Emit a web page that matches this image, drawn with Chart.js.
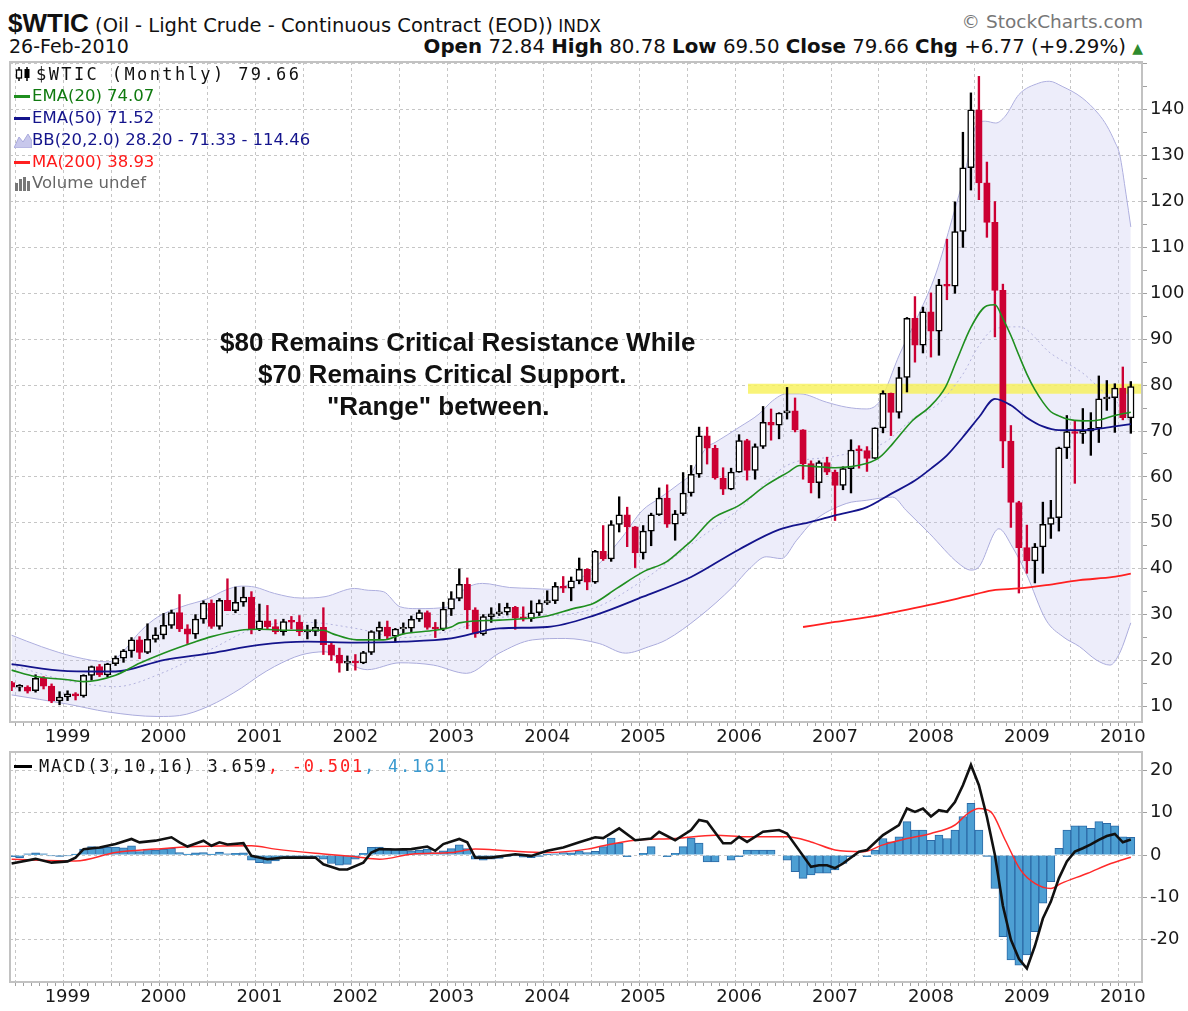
<!DOCTYPE html>
<html>
<head>
<meta charset="utf-8">
<title>$WTIC Monthly</title>
<script src="https://cdn.jsdelivr.net/npm/chart.js@4/dist/chart.umd.min.js"></script>
<style>
  html, body { margin:0; padding:0; background:#fff; }
  body { width:1188px; height:1011px; position:relative; overflow:hidden; font-family:"DejaVu Sans", sans-serif; color:#111; }
  .t { position:absolute; white-space:nowrap; line-height:1; }
  canvas { position:absolute; left:0; }
  #pc { top:60px; }
  #mc { top:750px; }
  .leg { position:absolute; left:14px; white-space:nowrap; line-height:1; font-family:"DejaVu Sans", sans-serif; font-size:16.5px; display:flex; align-items:center; height:20px; }
  .mono { font-family:"DejaVu Sans Mono", monospace; font-size:17px; letter-spacing:2.4px; }
  .dash { display:inline-block; width:16px; height:3px; margin-right:2px; }
  .ann { position:absolute; white-space:nowrap; font:bold 26px "Liberation Sans", Arial, sans-serif; color:#111; line-height:1; }
</style>
</head>
<body>
<div class="t" style="left:8px;top:8px;"><span style="font:bold 26px 'Liberation Sans',Arial,sans-serif;">$WTIC</span><span style="font-size:19.5px;"> (Oil - Light Crude - Continuous Contract (EOD))</span><span style="font-size:17px;"> INDX</span></div>
<div class="t" style="right:45px;top:13px;font-size:18.5px;color:#777;">© StockCharts.com</div>
<div class="t" style="left:9px;top:37px;font-size:19px;">26-Feb-2010</div>
<div class="t" style="right:45px;top:37px;font-size:19.8px;"><b>Open</b> 72.84 <b>High</b> 80.78 <b>Low</b> 69.50 <b>Close</b> 79.66 <b>Chg</b> +6.77 (+9.29%) <span style="color:#2e8b2e;font-size:14px;">▲</span></div>

<canvas id="pc" width="1188" height="700"></canvas>
<canvas id="mc" width="1188" height="261"></canvas>

<div class="leg mono" style="top:64px;"><svg width="19" height="16" style="margin-right:3px"><line x1="5" y1="1" x2="5" y2="15" stroke="#000" stroke-width="1.5"/><rect x="2.5" y="4" width="5" height="8" fill="#fff" stroke="#000" stroke-width="1.3"/><line x1="13" y1="1" x2="13" y2="15" stroke="#000" stroke-width="1.5"/><rect x="10.5" y="3" width="5" height="9" fill="#000"/></svg>$WTIC (Monthly) 79.66</div>
<div class="leg" style="top:86px;color:#107a10;"><span class="dash" style="background:#1f8f1f"></span>EMA(20) 74.07</div>
<div class="leg" style="top:108px;color:#14148c;"><span class="dash" style="background:#14148c"></span>EMA(50) 71.52</div>
<div class="leg" style="top:130px;color:#14148c;"><svg width="18" height="16"><polygon points="0,16 5,5 9,10 14,2 18,9 18,16" fill="#c8c8ec" stroke="#a9a9dc"/></svg>BB(20,2.0) 28.20 - 71.33 - 114.46</div>
<div class="leg" style="top:152px;color:#ff1a1a;"><span class="dash" style="background:#ff2020"></span>MA(200) 38.93</div>
<div class="leg" style="top:173px;color:#666;"><svg width="18" height="16"><rect x="1" y="8" width="3" height="8" fill="#777"/><rect x="5" y="4" width="3" height="12" fill="#777"/><rect x="9" y="2" width="3" height="14" fill="#777"/><rect x="13" y="6" width="3" height="10" fill="#777"/></svg>Volume undef</div>

<div class="ann" style="left:220px;top:329px;">$80 Remains Critical Resistance While</div>
<div class="ann" style="left:258px;top:361px;">$70 Remains Critical Support.</div>
<div class="ann" style="left:327px;top:393px;">"Range" between.</div>

<div class="leg mono" style="top:756px;left:14px;letter-spacing:1.8px;"><span class="dash" style="background:#000;width:18px;margin-right:7px"></span>MACD(3,10,16) 3.659<span style="color:#ff2020">, -0.501</span><span style="color:#3a9ad0">, 4.161</span></div>

<script>
// ================= DATA =================
// month index 0 = Jun 1998 ... 140 = Feb 2010
const firstYear = 1998;
const firstMonth = 5; // June (0 = January)
const yearLabels = ['1999','2000','2001','2002','2003','2004','2005','2006','2007','2008','2009','2010'];

const opens = [
  15.20,14.20,14.20,13.40,16.14,14.42,11.22,
  12.05,12.75,12.27,16.76,18.66,16.84,19.29,20.53,22.10,24.51,21.75,24.59,
  25.60,27.64,30.43,26.90,25.74,29.01,32.50,27.43,33.12,30.84,32.70,33.82,
  26.80,28.66,27.39,26.29,28.46,28.37,26.25,26.35,27.20,23.43,21.18,19.44,
  19.84,19.48,21.74,26.31,27.29,25.31,26.86,27.02,28.98,30.45,27.22,26.89,
  31.20,33.51,36.60,31.04,25.80,29.56,30.19,30.54,31.57,29.20,29.11,30.41,
  32.52,33.05,36.16,35.76,37.38,39.88,37.05,43.80,42.12,49.64,51.76,49.13,
  43.45,48.20,51.75,55.40,49.72,51.97,56.50,60.57,68.94,66.24,59.76,57.32,
  61.04,67.92,61.41,66.63,71.88,71.29,73.93,74.40,70.26,62.91,58.73,63.13,
  61.05,58.14,61.79,65.87,65.71,64.01,70.68,78.21,74.04,81.66,94.53,88.71,
  95.98,91.75,101.84,101.58,113.46,127.35,140.00,124.08,115.46,100.64,67.81,54.43,
  44.60,41.68,44.76,49.66,51.12,66.31,69.89,69.45,69.96,70.61,77.00,77.28,
  79.36,72.84
];
const highs = [
  15.45,14.75,14.50,16.90,16.50,14.90,13.20,
  13.40,13.00,16.90,18.80,19.14,19.40,21.00,22.40,25.00,25.20,28.00,27.15,
  30.25,31.00,34.37,27.80,30.00,33.00,33.20,33.50,37.80,36.00,36.00,35.00,
  32.30,32.00,28.90,29.00,29.60,29.80,27.70,28.90,31.50,23.80,22.70,21.00,
  21.30,22.00,26.50,28.40,28.60,27.00,28.20,29.70,31.00,30.80,28.30,32.70,
  35.00,39.99,38.00,31.50,30.00,31.50,32.40,32.50,31.80,31.70,33.00,33.20,
  35.20,37.00,38.30,38.20,42.33,40.00,44.00,49.40,50.47,55.67,53.40,49.20,
  49.40,52.10,57.60,58.28,52.70,60.95,62.50,70.85,70.85,66.90,62.00,61.90,
  69.20,68.20,67.20,75.35,74.80,74.00,79.50,77.20,70.30,63.50,63.50,64.30,
  61.50,62.20,68.10,66.80,66.60,70.70,78.77,78.28,83.90,94.74,99.29,97.00,
  100.09,103.05,111.80,119.93,135.09,143.67,147.27,128.60,120.00,102.00,71.20,54.70,
  49.50,45.50,54.50,54.90,66.50,73.38,72.30,74.90,74.00,82.00,81.00,80.30,
  83.95,80.78
];
const lows = [
  13.42,13.35,12.90,13.10,13.80,10.80,10.35,
  11.26,11.40,12.00,15.70,16.50,16.45,18.90,19.60,20.70,20.40,21.50,24.00,
  24.70,27.00,26.30,23.70,24.80,28.10,27.00,26.80,31.00,30.40,31.80,25.80,
  26.50,26.90,25.80,25.50,26.90,25.40,24.70,25.40,21.30,20.00,17.45,17.80,
  17.90,19.30,21.30,24.70,24.70,24.00,25.80,26.30,28.50,26.80,25.00,26.50,
  29.80,33.00,26.90,25.04,25.50,28.30,29.80,29.90,26.80,28.60,28.50,29.80,
  32.20,32.40,34.80,33.00,36.70,35.40,36.80,41.80,41.60,48.00,44.80,40.25,
  42.10,45.00,51.60,49.00,46.20,51.60,55.80,59.90,62.80,59.50,56.15,57.20,
  61.00,59.30,59.50,66.20,68.00,68.30,72.60,69.80,59.50,56.50,55.40,60.50,
  50.50,57.20,56.50,61.90,61.20,64.00,69.60,69.00,72.80,78.50,85.00,87.00,
  86.11,86.50,98.60,100.00,110.00,122.50,120.40,112.20,90.51,62.00,49.00,34.70,
  39.00,36.90,39.00,46.60,48.20,64.00,58.60,67.30,64.70,67.50,74.50,69.70,
  72.43,69.50
];
const closes = [
  14.18,14.21,13.34,16.14,14.42,11.22,12.05,
  12.75,12.27,16.76,18.66,16.84,19.29,20.53,22.10,24.51,21.75,24.59,25.60,
  27.64,30.43,26.90,25.74,29.01,32.50,27.43,33.12,30.84,32.70,33.82,26.80,
  28.66,27.39,26.29,28.46,28.37,26.25,26.35,27.20,23.43,21.18,19.44,19.84,
  19.48,21.74,26.31,27.29,25.31,26.86,27.02,28.98,30.45,27.22,26.89,31.20,
  33.51,36.60,31.04,25.80,29.56,30.19,30.54,31.57,29.20,29.11,30.41,32.52,
  33.05,36.16,35.76,37.38,39.88,37.05,43.80,42.12,49.64,51.76,49.13,43.45,
  48.20,51.75,55.40,49.72,51.97,56.50,60.57,68.94,66.24,59.76,57.32,61.04,
  67.92,61.41,66.63,71.88,71.29,73.93,74.40,70.26,62.91,58.73,63.13,61.05,
  58.14,61.79,65.87,65.71,64.01,70.68,78.21,74.04,81.66,94.53,88.71,95.98,
  91.75,101.84,101.58,113.46,127.35,140.00,124.08,115.46,100.64,67.81,54.43,44.60,
  41.68,44.76,49.66,51.12,66.31,69.89,69.45,69.96,70.61,77.00,77.28,79.36,
  72.89,79.66
];

// overlays (month index, value)
const ema20M = [0,3,7,9,13,16,19,23,25,28.6,31,34.4,37,39,40.2,43.2,46.5,49,53,55,56,61,67,70.25,72.75,75.7,79,81.9,84,85,87.75,91,94.4,97.1,98.6,100.2,103,106.9,108.6,110.2,112.7,114.8,116.8,118.2,120,122,123,124,125,126,127,128,129,130,131,132,134,136,138,140];
const ema20V = [17.9,16.5,15.8,15.4,16.8,19.4,21.6,24.1,25.2,26.6,26.8,26.6,26.6,26.6,25.8,24.5,24.5,25.8,26.6,27.3,28.2,28.8,29.7,31.3,32.4,35.7,39.3,41.5,44.5,46.0,51.0,53.8,58.2,61.0,62.5,62.3,62.0,62.9,64.3,67.2,72.3,75.2,79.5,85.3,92.6,97.3,97.5,94.5,90.8,86.5,82.4,79.0,76.3,74.2,73.3,72.6,72.2,72.4,73.4,74.07];

const ema50M = [0,7,13,19,25,31,37,43,49,55,61,67,73,79,85,91,96,100,103,107,110,113,115,117,119,121,123,125,127,129,131,134,136,138,140];
const ema50V = [19.2,17.7,17.6,20.1,21.6,23.4,24.1,23.9,24.1,24.8,27.0,27.3,29.9,33.9,38.2,44.2,48.5,50.2,51.6,53.4,56.3,59.2,61.8,64.7,68.7,73.0,77.0,75.6,72.9,71.0,70.2,70.2,70.5,71.0,71.52];

const ma200M = [99,103,108.6,114.8,119.3,122.7,126,129.4,133.6,137.8,140];
const ma200V = [27.3,28.4,29.9,32.1,33.9,35.3,35.7,36.4,37.5,38.2,38.93];

const bbUpM = [0,3.75,7.9,12.1,13.3,16.25,18.3,21.25,24.6,26.7,28.75,30.4,32.9,36.25,39.2,42.9,44.6,46.5,48.6,50.7,54.8,56,58.9,62.3,65.2,67.3,71.4,73.9,76.4,78.9,81,83.5,85,86,87,88,91,93.5,95.2,96.9,98.6,101.9,104.4,106.9,108.6,111.1,113.5,115.6,117.7,119.3,120.6,121.8,123.1,124.3,126,128.5,129.8,131.4,133.9,136,137,138,138.6,139.4,140];
const bbUpV = [25.5,23.0,20.8,19.7,20.8,26.6,29.5,31.7,33.5,35.3,36.2,36.0,34.6,33.6,33.9,35.7,35.3,35.0,31.7,31.3,31.7,34.6,36.8,35.9,35.7,35.5,38.2,41.8,46.9,52.7,55.3,58.5,60.7,64.0,66.5,67.5,70.8,73.7,76.6,78.1,78.1,76.3,75.2,74.8,76.5,86.8,95.5,104.2,116.5,126.6,136.4,137.5,137.1,138.6,143.3,145.8,146.2,145.1,142.6,139.0,136.5,133.0,130.3,121.6,114.46];

const bbLoM = [0,7,12,18.3,21,24.6,28.75,30.8,32.9,36.2,39.2,41.3,44.5,48.6,52.75,56.9,61,65.2,69.3,73.5,76.8,79.7,81.9,86,90.2,92.3,94.4,96.3,98.2,100.2,104.4,106.9,110.2,111.9,114.8,118.5,120,121,123.5,125.2,126.9,129.4,131.5,133.6,135.7,137.4,138.6,140];
const bbLoV = [12.5,10.5,8.8,7.8,8.0,10.0,14.0,16.5,18.7,21.2,21.9,20.1,18.0,19.5,19.0,17.2,21.6,24.5,24.8,23.7,21.6,23.0,24.5,29.5,36.0,40.0,42.6,42.2,46.2,50.2,54.2,54.9,55.6,52.7,47.7,41.1,39.7,40.4,48.7,44.7,39.0,28.8,25.2,23.0,20.1,19.0,21.6,28.2];

const bbMidM = [0,7,13,19,25,31,37,43,49,55,61,67,73,79,85,91,97,103,109,113,116,119,121,123,126,130,134,137,138,139,140];
const bbMidV = [19.0,15.6,14.3,17.4,22.5,27.4,28.3,27.0,25.0,26.5,29.4,29.7,31.5,37.5,45.3,53.0,62.5,64.5,67.3,73.0,76.0,82.4,88.6,92.3,92.7,86.9,82.6,77.9,76.7,74.8,71.33];

// horizontal resistance band ($78-$80)
const bandM = [92.1, 141.4];
const bandLow = [78.1, 78.1];
const bandHigh = [80.3, 80.3];

// MACD(3,10,16)
const macdM = [0,3,5,7,8,9,11,13,15,16,18,20,21,22,24,25,26,27,29,30,32,34,36,38,39,41,42,44,45,46,48,50,52,53,54,56,57,58,60,63,65,67,69,71,73,74,76,78,80,81,83,85,86,87,89,90,91,92,94,96,97,100,101,102,103,104,106,107,109,111,112,113,114,115,116,117,118,119,120,121,122,123,124,125,126,127,128,129,130,131,132,133,134,135,136,137,138,139,140];
const macdV = [-2.0,-0.9,-1.8,-1.5,-0.6,1.4,1.8,2.6,3.8,3.0,3.4,4.2,3.0,2.0,3.4,2.2,3.0,2.5,2.8,-0.2,-1.0,-0.6,-0.6,-0.6,-2.2,-3.4,-3.4,-1.8,0.6,1.4,1.3,1.4,2.0,1.0,2.6,3.8,3.0,-0.6,-0.6,0.2,-0.2,1.0,1.8,3.0,4.2,4.0,6.3,3.5,3.9,5.5,3.5,5.9,8.3,7.9,2.8,2.8,4.3,3.1,5.5,5.9,5.1,-2.8,-2.4,-2.4,-3.1,-2.0,0.8,1.2,4.7,7.1,11.0,10.2,11.0,9.1,10.6,10.2,12.5,16.5,21.3,16.5,9.0,0.0,-12.0,-20.0,-24.5,-26.8,-21.5,-15.0,-11.0,-5.5,-1.5,0.8,1.6,2.5,3.6,4.5,5.0,3.0,3.659];
const signalM = [0,8,13,18,23,30,33,38,43,46,50,55,58,62,67,72,74,78,83,88,92,97,100,103,106.5,109,112,115,118,119.6,121,122.5,124.3,126.2,128,130,131.3,134.6,137.5,140];
const signalV = [-1.0,-1.4,0.6,1.4,2.0,2.2,1.4,0.4,-0.4,-1.0,0.2,0.6,1.4,1.0,0.6,1.4,2.2,3.5,3.9,4.7,4.3,4.3,3.1,1.2,0.8,2.4,3.9,5.1,7.1,9.8,11.0,10.2,3.5,-3.5,-6.7,-7.9,-6.7,-4.3,-2.0,-0.501];
const macdHist = [
  -0.4,-0.6,0.3,0.5,0.3,-0.2,-0.3,
  -0.2,0.2,1.4,2.0,1.6,1.8,1.9,1.7,2.2,0.8,1.4,1.2,
  1.4,1.6,0.6,0.2,0.5,0.6,0.2,0.7,0.3,0.4,0.5,-1.2,
  -1.8,-2.0,-1.4,-0.6,-0.6,-0.5,-0.6,-0.5,-1.0,-2.0,-2.4,-2.2,
  -1.0,0.4,1.8,1.9,1.5,1.3,1.2,1.0,1.2,1.4,0.6,1.0,
  1.5,2.4,1.5,-1.0,-1.2,-1.0,-0.8,-0.3,-0.2,-0.5,-0.6,-0.3,
  0.2,0.3,0.6,0.5,1.0,0.6,0.9,2.0,4.0,2.8,-0.4,0.0,
  0.4,2.0,0.0,-0.4,0.4,2.0,4.0,2.8,-1.6,-1.6,0.0,-1.2,
  -0.4,1.2,1.2,1.2,1.2,0.0,-1.2,-3.9,-5.5,-4.7,-4.3,-4.3,
  -3.5,-2.0,-0.4,0.0,-0.4,1.2,3.9,3.1,4.3,7.9,5.9,5.9,
  3.5,4.7,3.9,5.9,9.1,12.2,5.9,-0.3,-7.9,-19.3,-24.8,-26.0,
  -23.6,-18.1,-11.4,-6.3,1.6,5.9,6.9,6.9,6.3,7.9,7.5,6.9,
  4.3,4.161
];

const priceTicks = [10,15,20,25,30,35,40,45,50,55,60,65,70,75,80,85,90,95,100,105,110,115,120,125,130,135,140,145,150];
const macdTicks = [-20,-10,0,10,20];

// ================= STYLE =================
const RED = '#cc0033';
const GRID = '#c6c6c6';
const AXIS_FONT = { family: 'DejaVu Sans', size: 18 };
const X_MIN = -0.2, X_MAX = 141.4;

const N = closes.length;
const idx = Array.from({ length: N }, (_, i) => i);
const pts = (ms, vs) => ms.map((m, i) => ({ x: m, y: vs[i] }));
const monthOf = m => (m + firstMonth) % 12;
const prevClose = closes.map((c, i) => i ? closes[i - 1] : opens[0]);
const candleColor = closes.map((c, i) => c >= prevClose[i] ? '#000000' : RED);
const candleFill = closes.map((c, i) => c > opens[i] ? '#ffffff' : candleColor[i]);

const framePlugin = {
  id: 'frame',
  afterDraw(chart) {
    const { ctx, chartArea: a } = chart;
    ctx.save();
    ctx.strokeStyle = '#c2c2c2';
    ctx.lineWidth = 2;
    ctx.strokeRect(a.left, a.top, a.right - a.left, a.bottom - a.top);
    ctx.restore();
  }
};

function xScale(height) {
  return {
    type: 'linear', min: X_MIN, max: X_MAX, offset: false,
    afterBuildTicks: s => { s.ticks = idx.map(v => ({ value: v })); },
    afterFit: s => { s.height = height; s.paddingLeft = 0; s.paddingRight = 0; },
    ticks: {
      autoSkip: false, maxRotation: 0, minRotation: 0, padding: 1,
      font: AXIS_FONT, color: '#1a1a1a',
      callback: v => monthOf(v) === 0 ? yearLabels[(v - 7) / 12] : ''
    },
    grid: {
      color: c => (c.tick && (monthOf(c.tick.value) === 0 || monthOf(c.tick.value) === 6)) ? GRID : 'rgba(0,0,0,0)',
      tickColor: '#a0a0a0', tickLength: 4, lineWidth: 1
    },
    border: { display: false, dash: [3, 3] }
  };
}

// ================= PRICE CHART =================
new Chart(document.getElementById('pc'), {
  type: 'bar',
  data: {
    datasets: [
      { type: 'line', data: pts(ema20M, ema20V), borderColor: '#1f8f1f', borderWidth: 1.6, pointRadius: 0, cubicInterpolationMode: 'monotone', fill: false, order: 0 },
      { type: 'line', data: pts(ema50M, ema50V), borderColor: '#14148c', borderWidth: 1.8, pointRadius: 0, cubicInterpolationMode: 'monotone', fill: false, order: 0 },
      { type: 'line', data: pts(ma200M, ma200V), borderColor: '#ff2020', borderWidth: 1.8, pointRadius: 0, cubicInterpolationMode: 'monotone', fill: false, order: 0 },
      { type: 'bar', data: idx.map(i => ({ x: i, y: [opens[i], closes[i]] })), backgroundColor: candleFill, borderColor: candleColor, borderWidth: 1.5, borderSkipped: false, barThickness: 6.5, minBarLength: 1.8, grouped: false, order: 2 },
      { type: 'bar', data: idx.map(i => ({ x: i, y: [lows[i], highs[i]] })), backgroundColor: candleColor, borderWidth: 0, barThickness: 1.7, grouped: false, order: 3 },
      { type: 'line', data: pts(bbMidM, bbMidV), borderColor: '#b4b4de', borderWidth: 1, borderDash: [2, 3], pointRadius: 0, cubicInterpolationMode: 'monotone', fill: false, order: 5 },
      { type: 'line', data: pts(bandM, bandLow), borderColor: 'rgba(0,0,0,0)', borderWidth: 0, pointRadius: 0, fill: false, order: 7 },
      { type: 'line', data: pts(bandM, bandHigh), borderColor: 'rgba(0,0,0,0)', borderWidth: 0, pointRadius: 0, fill: '-1', backgroundColor: 'rgba(248,242,90,0.82)', order: 6 },
      { type: 'line', data: pts(bbUpM, bbUpV), borderColor: '#abacdc', borderWidth: 1, pointRadius: 0, cubicInterpolationMode: 'monotone', fill: false, order: 9 },
      { type: 'line', data: pts(bbLoM, bbLoV), borderColor: '#abacdc', borderWidth: 1, pointRadius: 0, cubicInterpolationMode: 'monotone', fill: '-1', backgroundColor: 'rgba(195,195,238,0.30)', order: 8 }
    ]
  },
  options: {
    responsive: false, animation: false, events: [],
    layout: { padding: { left: 10, top: 2, right: 0, bottom: 0 } },
    plugins: { legend: { display: false }, tooltip: { enabled: false } },
    scales: {
      x: xScale(38),
      y: {
        type: 'linear', position: 'right', min: 6.6, max: 150.4,
        afterBuildTicks: s => { s.ticks = priceTicks.map(v => ({ value: v })); },
        afterFit: s => { s.width = 46; s.paddingTop = 0; s.paddingBottom = 0; },
        ticks: { autoSkip: false, padding: 3, font: AXIS_FONT, color: '#1a1a1a',
          callback: v => (v % 10 === 0 && v <= 140) ? String(v) : '' },
        grid: { color: c => (c.tick && c.tick.value % 10 === 0) ? GRID : 'rgba(0,0,0,0)', tickColor: '#a0a0a0', tickLength: 5, lineWidth: 1 },
        border: { display: false, dash: [3, 3] }
      }
    }
  },
  plugins: [framePlugin]
});

// ================= MACD CHART =================
new Chart(document.getElementById('mc'), {
  type: 'bar',
  data: {
    datasets: [
      { type: 'line', data: pts(macdM, macdV), borderColor: '#111111', borderWidth: 2.6, pointRadius: 0, tension: 0, fill: false, order: 0 },
      { type: 'line', data: pts(signalM, signalV), borderColor: '#ff2a2a', borderWidth: 1.5, pointRadius: 0, cubicInterpolationMode: 'monotone', fill: false, order: 1 },
      { type: 'bar', data: idx.map(i => ({ x: i, y: macdHist[i] })), backgroundColor: '#4d9fd3', borderColor: '#2c6aa6', borderWidth: 1, barThickness: 8, grouped: false, order: 2 }
    ]
  },
  options: {
    responsive: false, animation: false, events: [],
    layout: { padding: { left: 10, top: 2, right: 0, bottom: 0 } },
    plugins: { legend: { display: false }, tooltip: { enabled: false } },
    scales: {
      x: xScale(29),
      y: {
        type: 'linear', position: 'right', min: -30, max: 24.35,
        afterBuildTicks: s => { s.ticks = macdTicks.map(v => ({ value: v })); },
        afterFit: s => { s.width = 46; s.paddingTop = 0; s.paddingBottom = 0; },
        ticks: { autoSkip: false, padding: 3, font: AXIS_FONT, color: '#1a1a1a', callback: v => String(v) },
        grid: { color: GRID, tickColor: '#a0a0a0', tickLength: 5, lineWidth: 1 },
        border: { display: false, dash: [3, 3] }
      }
    }
  },
  plugins: [framePlugin]
});
</script>
</body>
</html>
